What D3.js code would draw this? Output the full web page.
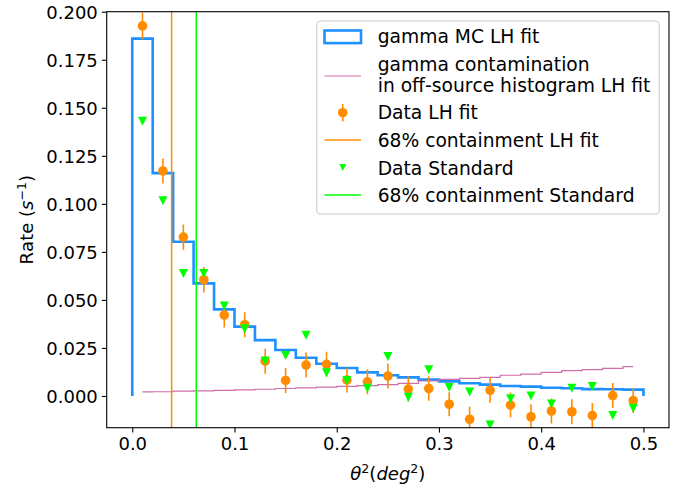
<!DOCTYPE html>
<html><head><meta charset="utf-8">
<script src="https://cdn.jsdelivr.net/npm/d3@7"></script>
<style>body{margin:0;background:#fff}svg{display:block}text{font-family:"DejaVu Sans",sans-serif;font-kerning:none}</style>
</head><body>
<svg id="c" width="686" height="486"></svg>
<script>
// bin edges start 0, width 0.02 -> 25 bins; centers 0.01..0.49
const binEdges = [0,0.02,0.04,0.06,0.08,0.10,0.12,0.14,0.16,0.18,0.20,0.22,0.24,0.26,0.28,0.30,0.32,0.34,0.36,0.38,0.40,0.42,0.44,0.46,0.48,0.50];
const binCenters = [0.01,0.03,0.05,0.07,0.09,0.11,0.13,0.15,0.17,0.19,0.21,0.23,0.25,0.27,0.29,0.31,0.33,0.35,0.37,0.39,0.41,0.43,0.45,0.47,0.49];
const gammaMC = [0.186,0.116,0.0803,0.0586,0.0451,0.0361,0.0291,0.0239,0.0199,0.0168,0.0146,0.0123,0.0108,0.0097,0.0085,0.0076,0.0066,0.0059,0.0052,0.0049,0.0043,0.0040,0.0036,0.0035,0.0033];
const offContam = [0.0021,0.0022,0.0025,0.0027,0.0029,0.0032,0.0035,0.0039,0.0042,0.0046,0.0050,0.0054,0.0059,0.0066,0.0078,0.0087,0.0092,0.0097,0.0108,0.0114,0.0123,0.0132,0.0137,0.0144,0.0153];
const dataLH = [0.1926,0.1171,0.0827,0.0605,0.0421,0.0371,0.0181,0.0081,0.0161,0.0165,0.0083,0.0074,0.0104,0.0036,0.0039,-0.0043,-0.0121,0.0030,-0.0047,-0.0108,-0.0078,-0.0082,-0.0102,0.0002,-0.0024];
const dataLHerr = [0.0070,0.0065,0.0066,0.0066,0.0065,0.0065,0.0065,0.0065,0.0065,0.0065,0.0065,0.0065,0.0065,0.0065,0.0064,0.0063,0.0065,0.0065,0.0065,0.0065,0.0065,0.0065,0.0065,0.0065,0.0065];
const dataStd = [0.1430,0.1016,0.0638,0.0637,0.0468,0.0350,0.0182,0.0211,0.0316,0.0121,0.0080,0.0040,0.0205,-0.0007,0.0136,0.0044,0.0021,-0.0151,-0.0014,0.0000,-0.0042,0.0040,0.0049,-0.0102,-0.0064];
const containLH = 0.0385;
const containStd = 0.0626;
const xTicks = [0,0.1,0.2,0.3,0.4,0.5];
const yTicks = [0,0.025,0.05,0.075,0.1,0.125,0.15,0.175,0.2];
const legendLabels = [["gamma MC LH fit"],["gamma contamination","in off-source histogram LH fit"],["Data LH fit"],["68% containment LH fit"],["Data Standard"],["68% containment Standard"]];

const C = {blue:"#1e90ff", pink:"#cf6ea8", orange:"#ff8c00", green:"#00ff00"};
const svg = d3.select("#c");
const L=106.7, R=669, T=11.7, B=427.7;
const x = d3.scaleLinear().domain([-0.025,0.525]).range([L,R]);
const y = d3.scaleLinear().domain([-0.0165,0.2]).range([B,T]);

svg.append("defs").append("clipPath").attr("id","clip").append("rect")
  .attr("x",L).attr("y",T).attr("width",R-L).attr("height",B-T);
const g = svg.append("g").attr("clip-path","url(#clip)");

// gamma MC histogram (step)
const histPts = [[binEdges[0],0]].concat(gammaMC.map((v,i)=>[binEdges[i],v]))
  .concat([[binEdges[binEdges.length-1],gammaMC[gammaMC.length-1]],[binEdges[binEdges.length-1],0]]);
g.append("path").attr("d", d3.line().x(d=>x(d[0])).y(d=>y(d[1])).curve(d3.curveStepAfter)(histPts))
  .attr("fill","none").attr("stroke",C.blue).attr("stroke-width",2.6);

// off-source contamination (steps-mid)
g.append("path").attr("d", d3.line().x((d,i)=>x(binCenters[i])).y(d=>y(d)).curve(d3.curveStep)(offContam))
  .attr("fill","none").attr("stroke",C.pink).attr("stroke-width",1.2);

// Data LH fit errorbars
binCenters.forEach((c,i)=>{
  g.append("line").attr("x1",x(c)).attr("x2",x(c))
    .attr("y1",y(dataLH[i]-dataLHerr[i])).attr("y2",y(dataLH[i]+dataLHerr[i]))
    .attr("stroke",C.orange).attr("stroke-width",1.6);
});
g.selectAll("circle.lh").data(dataLH).enter().append("circle")
  .attr("cx",(d,i)=>x(binCenters[i])).attr("cy",d=>y(d)).attr("r",4.8).attr("fill",C.orange);

// containment lines
g.append("line").attr("x1",x(containLH)).attr("x2",x(containLH)).attr("y1",T).attr("y2",B)
  .attr("stroke",C.orange).attr("stroke-width",1.5);

// Data Standard triangles
const tri = (cx,cy,s)=>`M${cx-s/2},${cy-s/2}L${cx+s/2},${cy-s/2}L${cx},${cy+s/2}Z`;
g.selectAll("path.std").data(dataStd).enter().append("path")
  .attr("d",(d,i)=>tri(x(binCenters[i]),y(d),9)).attr("fill",C.green);

g.append("line").attr("x1",x(containStd)).attr("x2",x(containStd)).attr("y1",T).attr("y2",B)
  .attr("stroke",C.green).attr("stroke-width",1.5);

// axes
const xa = svg.append("g").attr("transform",`translate(0,${B})`)
  .call(d3.axisBottom(x).tickValues(xTicks).tickFormat(d3.format(".1f")).tickSize(4.9).tickPadding(4));
const ya = svg.append("g").attr("transform",`translate(${L},0)`)
  .call(d3.axisLeft(y).tickValues(yTicks).tickFormat(d3.format(".3f")).tickSize(4.9).tickPadding(4));
[xa,ya].forEach(a=>{a.select(".domain").remove();
  a.selectAll("text").attr("font-size",18).attr("fill","#000").attr("font-family","DejaVu Sans");
  a.selectAll("line").attr("stroke","#000").attr("stroke-width",1.1);});
xa.selectAll("text").attr("dy","0.76em");
ya.selectAll("text").attr("dy","0.36em");
svg.append("rect").attr("x",L).attr("y",T).attr("width",R-L).attr("height",B-T)
  .attr("fill","none").attr("stroke","#000").attr("stroke-width",1.1);

// axis titles
const xt = svg.append("text").attr("x",(L+R)/2).attr("y",480).attr("text-anchor","middle").attr("font-size",18);
xt.append("tspan").attr("font-style","italic").text("θ");
xt.append("tspan").attr("font-size",12.6).attr("dy",-7).text("2");
xt.append("tspan").attr("dy",7).text("(");
xt.append("tspan").attr("font-style","italic").text("deg");
xt.append("tspan").attr("font-size",12.6).attr("dy",-7).text("2");
xt.append("tspan").attr("dy",7).text(")");

const yt = svg.append("text").attr("transform",`translate(33,${(T+B)/2}) rotate(-90)`)
  .attr("text-anchor","middle").attr("font-size",18);
yt.append("tspan").text("Rate (");
yt.append("tspan").attr("font-style","italic").text("s");
yt.append("tspan").attr("font-size",12.6).attr("dy",-7).text("−1");
yt.append("tspan").attr("dy",7).text(")");

// legend
const lg = svg.append("g");
lg.append("rect").attr("x",316.7).attr("y",21).attr("width",342.6).attr("height",193).attr("rx",4)
  .attr("fill","#fff").attr("fill-opacity",0.8).attr("stroke","#cccccc").attr("stroke-width",1.1);
const hx0=324.5, hx1=361, hc=(hx0+hx1)/2, tx=377.7;
const baselines = [[43.3],[71,91.7],[119.3],[146.7],[174.7],[202]];
legendLabels.forEach((lines,i)=>{
  lines.forEach((s,j)=>lg.append("text").attr("x",tx).attr("y",baselines[i][j]).attr("font-size",18.7).attr("fill","#000").text(s));
});
lg.append("rect").attr("x",hx0).attr("y",30.5).attr("width",hx1-hx0).attr("height",12.6)
  .attr("fill","none").attr("stroke",C.blue).attr("stroke-width",2.6);
lg.append("line").attr("x1",hx0).attr("x2",hx1).attr("y1",76).attr("y2",76).attr("stroke",C.pink).attr("stroke-width",1.2);
lg.append("line").attr("x1",hc).attr("x2",hc).attr("y1",104).attr("y2",121.5).attr("stroke",C.orange).attr("stroke-width",1.6);
lg.append("circle").attr("cx",hc).attr("cy",112.7).attr("r",4.8).attr("fill",C.orange);
lg.append("line").attr("x1",hx0).attr("x2",hx1).attr("y1",140).attr("y2",140).attr("stroke",C.orange).attr("stroke-width",1.5);
lg.append("path").attr("d",tri(hc,167.5,7)).attr("fill",C.green);
lg.append("line").attr("x1",hx0).attr("x2",hx1).attr("y1",195).attr("y2",195).attr("stroke",C.green).attr("stroke-width",1.5);
</script>
</body></html>
